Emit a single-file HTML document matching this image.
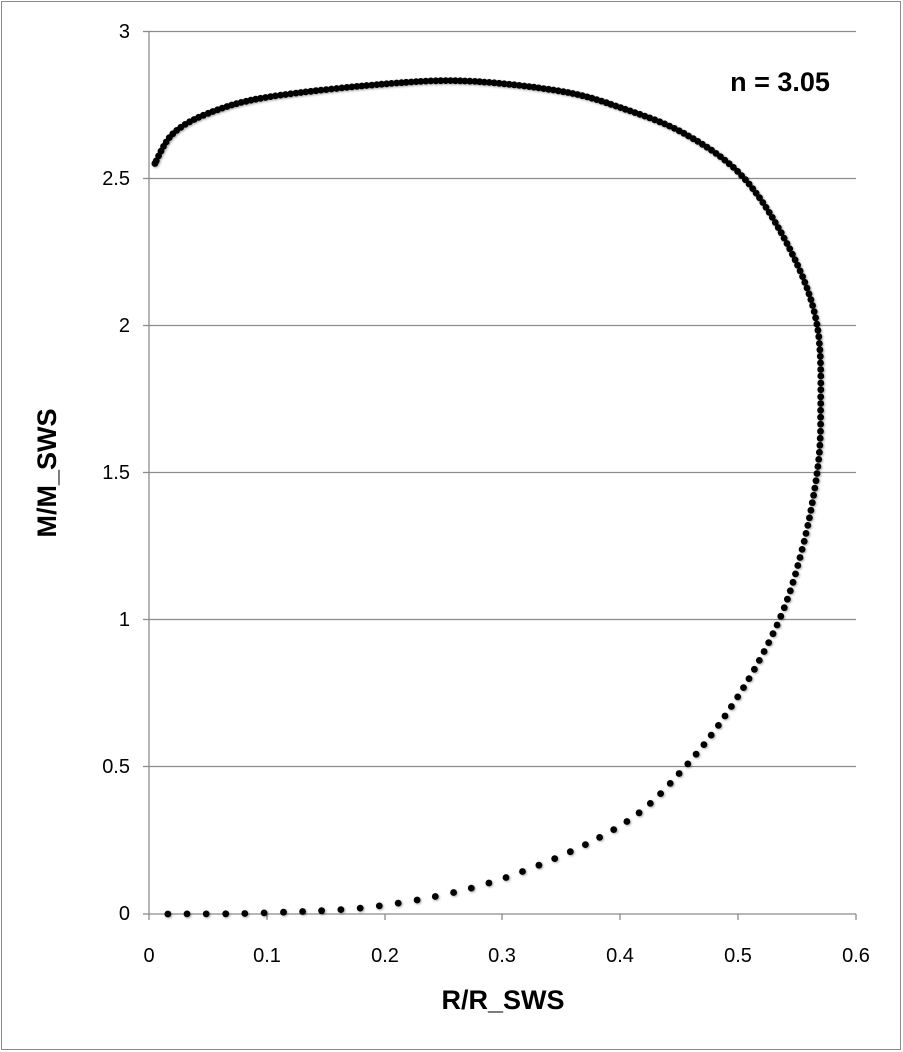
<!DOCTYPE html>
<html><head><meta charset="utf-8"><style>
html,body{margin:0;padding:0;background:#fff}
svg{display:block;font-family:"Liberation Sans",sans-serif}
</style></head><body>
<svg id="s" width="903" height="1052" xmlns="http://www.w3.org/2000/svg">
<rect x="1.5" y="1.5" width="899" height="1048" fill="#fff" stroke="#8a8a8a" stroke-width="1"/>
<g stroke="#8c8c8c" stroke-width="1.3">
<line x1="149" y1="31.5" x2="856" y2="31.5"/>
<line x1="149" y1="178.5" x2="856" y2="178.5"/>
<line x1="149" y1="325.5" x2="856" y2="325.5"/>
<line x1="149" y1="472.5" x2="856" y2="472.5"/>
<line x1="149" y1="619.5" x2="856" y2="619.5"/>
<line x1="149" y1="766.5" x2="856" y2="766.5"/>
<line x1="149" y1="914" x2="856" y2="914"/>
<line x1="149" y1="31" x2="149" y2="914"/>
<line x1="143" y1="31.5" x2="149" y2="31.5"/><line x1="143" y1="178.5" x2="149" y2="178.5"/>
<line x1="143" y1="325.5" x2="149" y2="325.5"/><line x1="143" y1="472.5" x2="149" y2="472.5"/>
<line x1="143" y1="619.5" x2="149" y2="619.5"/><line x1="143" y1="766.5" x2="149" y2="766.5"/>
<line x1="143" y1="914" x2="149" y2="914"/>
<line x1="149" y1="914" x2="149" y2="920"/><line x1="267" y1="914" x2="267" y2="920"/>
<line x1="385" y1="914" x2="385" y2="920"/><line x1="502" y1="914" x2="502" y2="920"/>
<line x1="620" y1="914" x2="620" y2="920"/><line x1="738" y1="914" x2="738" y2="920"/>
<line x1="856" y1="914" x2="856" y2="920"/>
</g>
<g font-size="20" fill="#000" text-anchor="end">
<text x="130" y="38">3</text><text x="130" y="185">2.5</text><text x="130" y="332">2</text>
<text x="130" y="479">1.5</text><text x="130" y="626">1</text><text x="130" y="773">0.5</text>
<text x="130" y="920">0</text>
</g>
<g font-size="20" fill="#000" text-anchor="middle">
<text x="149" y="962">0</text><text x="267" y="962">0.1</text><text x="385" y="962">0.2</text>
<text x="502" y="962">0.3</text><text x="620" y="962">0.4</text><text x="738" y="962">0.5</text>
<text x="856" y="962">0.6</text>
</g>
<text x="503" y="1009" font-size="27" font-weight="bold" text-anchor="middle">R/R_SWS</text>
<text transform="translate(56,473) rotate(-90)" font-size="27" font-weight="bold" text-anchor="middle">M/M_SWS</text>
<text x="780" y="91" font-size="27" font-weight="bold" text-anchor="middle">n = 3.05</text>
<g id="d" fill="#000" style="filter:drop-shadow(1px 1.5px 1px rgba(0,0,0,0.35))"></g>
</svg>
<script>
var pts=[[0.016,0],[0.1,0.004],[0.2,0.03],[0.3,0.12],[0.4,0.3],[0.455,0.5],[0.5,0.74],[0.535,1.0],[0.555,1.25],[0.567,1.5],[0.57,1.7],[0.567,2.0],[0.545,2.25],[0.505,2.5],[0.455,2.65],[0.4,2.74],[0.35,2.795],[0.27,2.83],[0.2,2.82],[0.1,2.775],[0.05,2.72],[0.02,2.65],[0.005,2.55]];
var P=pts.map(function(p){return [149+p[0]*1178.3,914-p[1]*294.33];});
function cr(p0,p1,p2,p3,t){var t2=t*t,t3=t2*t;return [0,1].map(function(i){return 0.5*((2*p1[i])+(-p0[i]+p2[i])*t+(2*p0[i]-5*p1[i]+4*p2[i]-p3[i])*t2+(-p0[i]+3*p1[i]-3*p2[i]+p3[i])*t3);});}
var dense=[];
for(var i=0;i<P.length-1;i++){var p0=P[Math.max(0,i-1)],p1=P[i],p2=P[i+1],p3=P[Math.min(P.length-1,i+2)];for(var k=0;k<200;k++)dense.push(cr(p0,p1,p2,p3,k/200));}
dense.push(P[P.length-1]);
var Ms=[0,0.5,1,1.5,2,2.5,2.9],St=[19,12.5,9,7,6.2,5.5,4.5];
function step(y){var m=(914-y)/294.33;for(var j=0;j<Ms.length-1;j++){if(m<=Ms[j+1]){var f=(m-Ms[j])/(Ms[j+1]-Ms[j]);return St[j]+f*(St[j+1]-St[j]);}}return 4.5;}
var g=document.getElementById('d'),out='',acc=0,last=dense[0],target=0;
out+='<circle cx="'+last[0]+'" cy="'+last[1]+'" r="3.4"/>';target=step(last[1]);
for(var i=1;i<dense.length;i++){var a=dense[i-1],b=dense[i];acc+=Math.hypot(b[0]-a[0],b[1]-a[1]);if(acc>=target){out+='<circle cx="'+b[0].toFixed(1)+'" cy="'+b[1].toFixed(1)+'" r="3.4"/>';acc=0;target=step(b[1]);}}
var e=P[P.length-1];out+='<circle cx="'+e[0]+'" cy="'+e[1]+'" r="3.4"/>';
g.innerHTML=out;
</script>
</body></html>
